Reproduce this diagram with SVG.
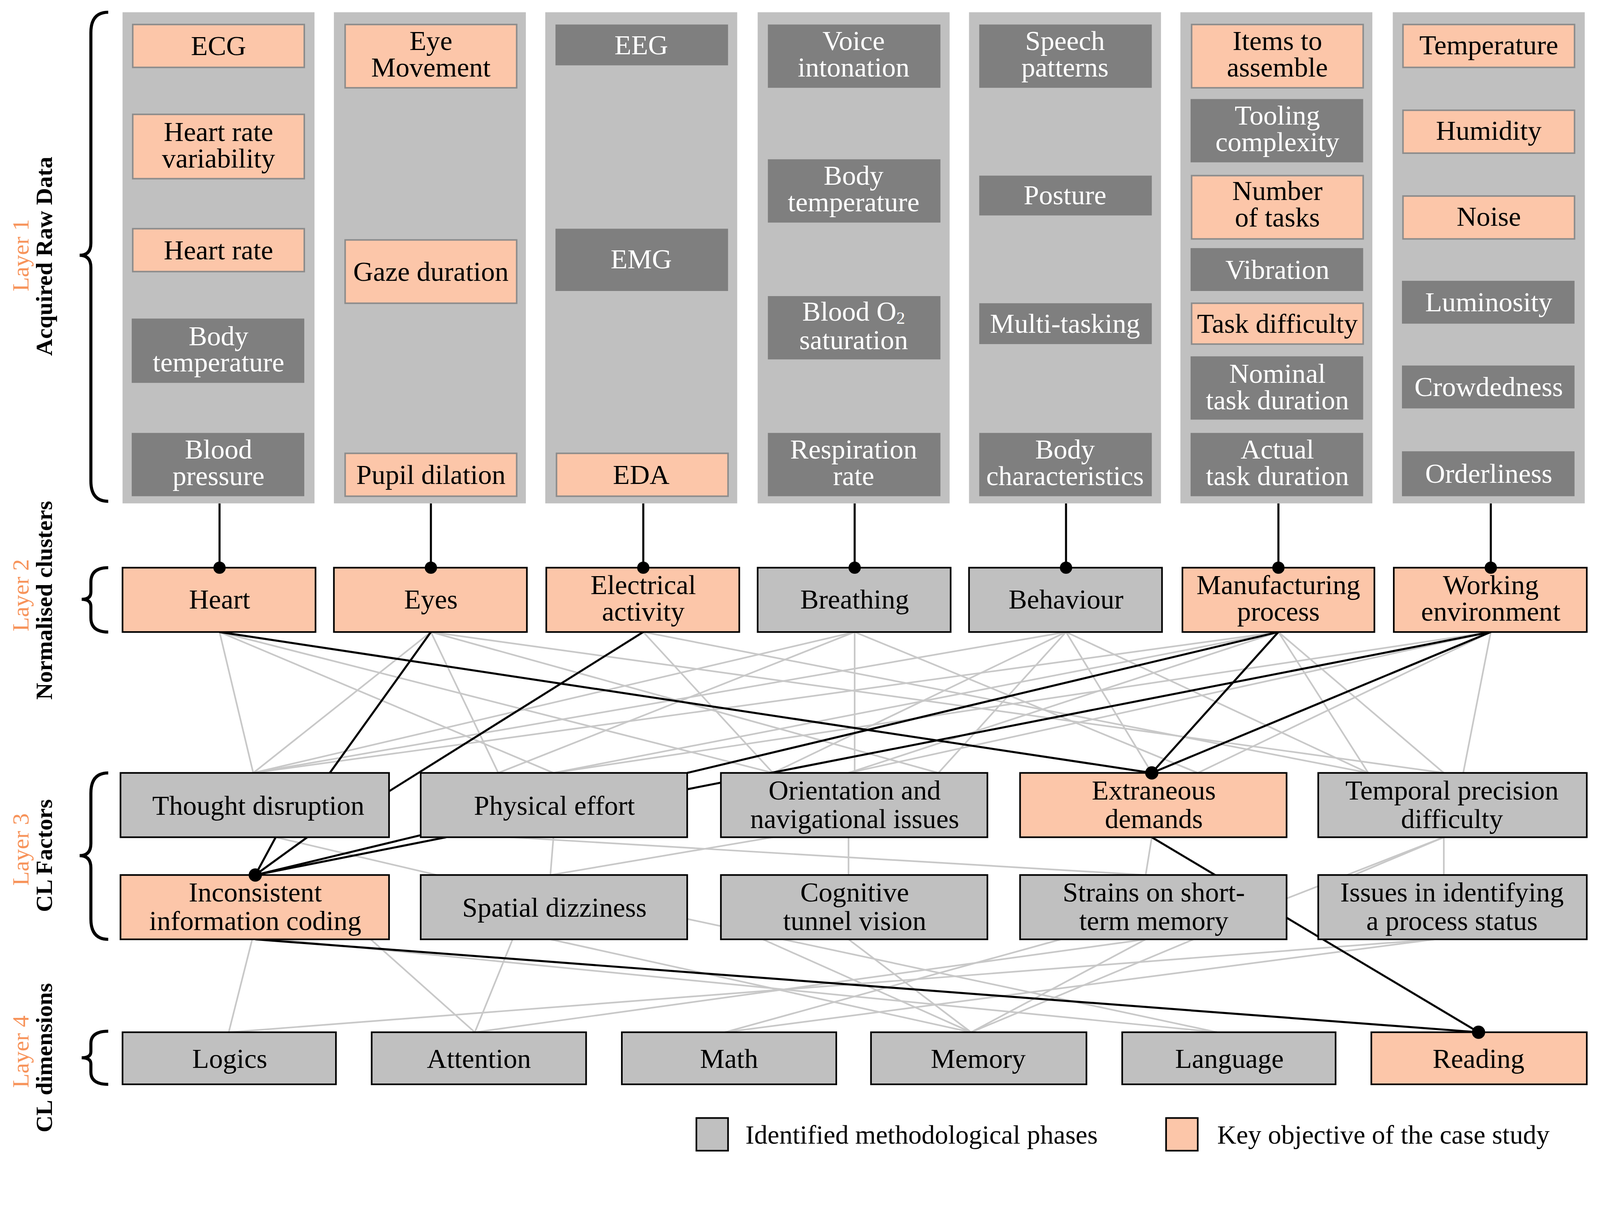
<svg xmlns="http://www.w3.org/2000/svg" width="4315" height="3126" viewBox="0 0 4315 3126">
<style>
text{font-family:"Liberation Serif",serif;font-size:27px;text-anchor:middle;fill:#000}
.w{fill:#fff}
.pan{fill:#c0c0c0}
.dk{fill:#7f7f7f}
.pk{fill:#fcc6a9;stroke:#8c8c8c;stroke-width:1.5}
.pb{fill:#fcc6a9;stroke:#000;stroke-width:1.6}
.gb{fill:#c0c0c0;stroke:#000;stroke-width:1.6}
.g line{stroke:#c8c8c8;stroke-width:1.6}
.b line{stroke:#000;stroke-width:2}
.v line{stroke:#000;stroke-width:2}
.br{fill:none;stroke:#000;stroke-width:3}
.lo{fill:#f7935a;font-size:23px}
.lb{font-weight:bold;font-size:23px}
.lg{font-size:26px;text-anchor:start}
</style>
<rect width="4315" height="3126" fill="#fff"/>
<g transform="scale(2.614)">
<g id="labels">
<path class="br" d="M106,12 Q89,12 89,32 L89,238 Q89,250 78,250 Q89,250 89,262 L89,471 Q89,491 106,491"/>
<path class="br" d="M106,556 Q89,556 89,570 L89,580 Q89,587 80,587 Q89,587 89,594 L89,605 Q89,619 106,619"/>
<path class="br" d="M106,757 Q89,757 89,777 L89,826 Q89,838 78,838 Q89,838 89,850 L89,900 Q89,920 106,920"/>
<path class="br" d="M106,1010 Q89,1010 89,1022 L89,1030 Q89,1036 80,1036 Q89,1036 89,1042 L89,1050 Q89,1062 106,1062"/>
<text class="lo" transform="translate(28,250) rotate(-90)">Layer 1</text>
<text class="lb" transform="translate(51,251) rotate(-90)">Acquired Raw Data</text>
<text class="lo" transform="translate(28,583) rotate(-90)">Layer 2</text>
<text class="lb" transform="translate(51,588) rotate(-90)">Normalised clusters</text>
<text class="lo" transform="translate(28,832) rotate(-90)">Layer 3</text>
<text class="lb" transform="translate(51,838) rotate(-90)">CL Factors</text>
<text class="lo" transform="translate(28,1030) rotate(-90)">Layer 4</text>
<text class="lb" transform="translate(51,1036) rotate(-90)">CL dimensions</text>
</g>
<g id="connectors">
<g class="v">
<line x1="215" y1="493" x2="215" y2="556"/><line x1="422" y1="493" x2="422" y2="556"/><line x1="630" y1="493" x2="630" y2="556"/><line x1="837" y1="493" x2="837" y2="556"/><line x1="1044" y1="493" x2="1044" y2="556"/><line x1="1252" y1="493" x2="1252" y2="556"/><line x1="1460" y1="493" x2="1460" y2="556"/>
</g>
<g class="g">
<line x1="215" y1="619" x2="248" y2="757"/><line x1="215" y1="619" x2="542" y2="757"/><line x1="215" y1="619" x2="757" y2="757"/>
<line x1="422" y1="619" x2="248" y2="757"/><line x1="422" y1="619" x2="488" y2="757"/><line x1="422" y1="619" x2="919" y2="757"/><line x1="422" y1="619" x2="1414" y2="757"/>
<line x1="630" y1="619" x2="757" y2="757"/><line x1="630" y1="619" x2="1340" y2="757"/>
<line x1="837" y1="619" x2="488" y2="757"/><line x1="837" y1="619" x2="837" y2="757"/><line x1="837" y1="619" x2="1173" y2="757"/><line x1="837" y1="619" x2="248" y2="757"/>
<line x1="1044" y1="619" x2="248" y2="757"/><line x1="1044" y1="619" x2="757" y2="757"/><line x1="1044" y1="619" x2="919" y2="757"/><line x1="1044" y1="619" x2="1128" y2="757"/><line x1="1044" y1="619" x2="1340" y2="757"/>
<line x1="1252" y1="619" x2="248" y2="757"/><line x1="1252" y1="619" x2="542" y2="757"/><line x1="1252" y1="619" x2="831" y2="757"/><line x1="1252" y1="619" x2="1414" y2="757"/><line x1="1252" y1="619" x2="1340" y2="757"/>
<line x1="1460" y1="619" x2="542" y2="757"/><line x1="1460" y1="619" x2="831" y2="757"/><line x1="1460" y1="619" x2="1173" y2="757"/><line x1="1460" y1="619" x2="1433" y2="757"/>
<line x1="270" y1="820" x2="428" y2="857"/><line x1="542" y1="820" x2="539" y2="857"/><line x1="757" y1="820" x2="539" y2="857"/><line x1="831" y1="820" x2="831" y2="857"/><line x1="1128" y1="820" x2="1122" y2="857"/><line x1="1414" y1="820" x2="1326" y2="857"/><line x1="1414" y1="820" x2="1414" y2="857"/><line x1="500" y1="820" x2="1122" y2="857"/><line x1="1414" y1="820" x2="1260" y2="880"/>
<line x1="247" y1="920" x2="224" y2="1011"/><line x1="270" y1="920" x2="1192" y2="1011"/><line x1="363" y1="920" x2="465" y2="1011"/>
<line x1="502" y1="920" x2="465" y2="1011"/><line x1="539" y1="920" x2="951" y2="1011"/><line x1="673" y1="900" x2="1192" y2="1011"/>
<line x1="747" y1="920" x2="951" y2="1011"/><line x1="831" y1="920" x2="951" y2="1011"/>
<line x1="1039" y1="920" x2="710" y2="1011"/><line x1="1122" y1="920" x2="951" y2="1011"/><line x1="1122" y1="920" x2="465" y2="1011"/><line x1="1169" y1="920" x2="951" y2="1011"/>
<line x1="1405" y1="920" x2="224" y2="1011"/><line x1="1405" y1="920" x2="710" y2="1011"/>
</g>
<g class="b">
<line x1="215" y1="619" x2="1128" y2="757"/><line x1="1252" y1="619" x2="1128" y2="757"/><line x1="1460" y1="619" x2="1128" y2="757"/>
<line x1="422" y1="619" x2="323" y2="757"/><line x1="270" y1="820" x2="250" y2="857"/>
<line x1="630" y1="619" x2="381" y2="775"/><line x1="301" y1="820" x2="250" y2="857"/>
<line x1="1252" y1="619" x2="673" y2="757"/><line x1="412" y1="818" x2="250" y2="857"/>
<line x1="1460" y1="619" x2="673" y2="773"/><line x1="437" y1="820" x2="250" y2="857"/>
<line x1="250" y1="920" x2="1448" y2="1011"/>
<line x1="1128" y1="820" x2="1448" y2="1011"/>
</g>
</g>
<g id="col1"><rect class="pan" x="120" y="12" width="188" height="481"/>
<rect class="pk" x="130" y="24" width="168" height="42"/><text x="214" y="54">ECG</text>
<rect class="pk" x="130" y="112" width="168" height="63"/><text x="214" y="138">Heart rate</text><text x="214" y="164">variability</text>
<rect class="pk" x="130" y="224" width="168" height="42"/><text x="214" y="254">Heart rate</text>
<rect class="dk" x="129" y="312" width="169" height="63"/><text class="w" x="214" y="338">Body</text><text class="w" x="214" y="364">temperature</text>
<rect class="dk" x="129" y="424" width="169" height="62"/><text class="w" x="214" y="449">Blood</text><text class="w" x="214" y="475">pressure</text></g>
<g id="col2"><rect class="pan" x="327" y="12" width="188" height="481"/>
<rect class="pk" x="338" y="24" width="168" height="62"/><text x="422" y="49">Eye</text><text x="422" y="75">Movement</text>
<rect class="pk" x="338" y="235" width="168" height="62"/><text x="422" y="275">Gaze duration</text>
<rect class="pk" x="338" y="444" width="168" height="42"/><text x="422" y="474">Pupil dilation</text></g>
<g id="col3"><rect class="pan" x="534" y="12" width="188" height="481"/>
<rect class="dk" x="544" y="24" width="169" height="40"/><text class="w" x="628" y="53">EEG</text>
<rect class="dk" x="544" y="224" width="169" height="61"/><text class="w" x="628" y="263">EMG</text>
<rect class="pk" x="545" y="444" width="168" height="42"/><text x="628" y="474">EDA</text></g>
<g id="col4"><rect class="pan" x="742" y="12" width="188" height="481"/>
<rect class="dk" x="752" y="24" width="169" height="62"/><text class="w" x="836" y="49">Voice</text><text class="w" x="836" y="75">intonation</text>
<rect class="dk" x="752" y="156" width="169" height="62"/><text class="w" x="836" y="181">Body</text><text class="w" x="836" y="207">temperature</text>
<rect class="dk" x="752" y="290" width="169" height="62"/><text class="w" x="836" y="314">Blood O<tspan font-size="17" dy="3">2</tspan></text><text class="w" x="836" y="342">saturation</text>
<rect class="dk" x="752" y="424" width="169" height="62"/><text class="w" x="836" y="449">Respiration</text><text class="w" x="836" y="475">rate</text></g>
<g id="col5"><rect class="pan" x="949" y="12" width="188" height="481"/>
<rect class="dk" x="959" y="24" width="169" height="62"/><text class="w" x="1043" y="49">Speech</text><text class="w" x="1043" y="75">patterns</text>
<rect class="dk" x="959" y="172" width="169" height="39"/><text class="w" x="1043" y="200">Posture</text>
<rect class="dk" x="959" y="297" width="169" height="40"/><text class="w" x="1043" y="326">Multi-tasking</text>
<rect class="dk" x="959" y="424" width="169" height="62"/><text class="w" x="1043" y="449">Body</text><text class="w" x="1043" y="475">characteristics</text></g>
<g id="col6"><rect class="pan" x="1156" y="12" width="188" height="481"/>
<rect class="pk" x="1167" y="24" width="168" height="62"/><text x="1251" y="49">Items to</text><text x="1251" y="75">assemble</text>
<rect class="dk" x="1166" y="97" width="169" height="62"/><text class="w" x="1251" y="122">Tooling</text><text class="w" x="1251" y="148">complexity</text>
<rect class="pk" x="1167" y="172" width="168" height="62"/><text x="1251" y="196">Number</text><text x="1251" y="222">of tasks</text>
<rect class="dk" x="1166" y="243" width="169" height="42"/><text class="w" x="1251" y="273">Vibration</text>
<rect class="pk" x="1167" y="297" width="168" height="40"/><text x="1251" y="326">Task difficulty</text>
<rect class="dk" x="1166" y="349" width="169" height="62"/><text class="w" x="1251" y="375">Nominal</text><text class="w" x="1251" y="401">task duration</text>
<rect class="dk" x="1166" y="424" width="169" height="62"/><text class="w" x="1251" y="449">Actual</text><text class="w" x="1251" y="475">task duration</text></g>
<g id="col7"><rect class="pan" x="1364" y="12" width="188" height="481"/>
<rect class="pk" x="1374" y="24" width="168" height="42"/><text x="1458" y="53">Temperature</text>
<rect class="pk" x="1374" y="108" width="168" height="42"/><text x="1458" y="137">Humidity</text>
<rect class="pk" x="1374" y="192" width="168" height="42"/><text x="1458" y="221">Noise</text>
<rect class="dk" x="1373" y="275" width="169" height="42"/><text class="w" x="1458" y="305">Luminosity</text>
<rect class="dk" x="1373" y="358" width="169" height="42"/><text class="w" x="1458" y="388">Crowdedness</text>
<rect class="dk" x="1373" y="442" width="169" height="44"/><text class="w" x="1458" y="473">Orderliness</text></g>
<g id="heart"><rect class="pb" x="120" y="556" width="189" height="63"/><text x="215" y="596">Heart</text></g>
<g id="eyes"><rect class="pb" x="327" y="556" width="189" height="63"/><text x="422" y="596">Eyes</text></g>
<g id="elec"><rect class="pb" x="535" y="556" width="189" height="63"/><text x="630" y="582">Electrical</text><text x="630" y="608">activity</text></g>
<g id="breath"><rect class="gb" x="742" y="556" width="189" height="63"/><text x="837" y="596">Breathing</text></g>
<g id="behav"><rect class="gb" x="949" y="556" width="189" height="63"/><text x="1044" y="596">Behaviour</text></g>
<g id="manuf"><rect class="pb" x="1158" y="556" width="188" height="63"/><text x="1252" y="582">Manufacturing</text><text x="1252" y="608">process</text></g>
<g id="workenv"><rect class="pb" x="1365" y="556" width="189" height="63"/><text x="1460" y="582">Working</text><text x="1460" y="608">environment</text></g>
<g id="td"><rect class="gb" x="118" y="757" width="263" height="63"/><text x="253" y="798">Thought disruption</text></g>
<g id="pe"><rect class="gb" x="412" y="757" width="261" height="63"/><text x="543" y="798">Physical effort</text></g>
<g id="on"><rect class="gb" x="706" y="757" width="261" height="63"/><text x="837" y="783">Orientation and</text><text x="837" y="811">navigational issues</text></g>
<g id="ed"><rect class="pb" x="999" y="757" width="261" height="63"/><text x="1130" y="783">Extraneous</text><text x="1130" y="811">demands</text></g>
<g id="tp"><rect class="gb" x="1291" y="757" width="263" height="63"/><text x="1422" y="783">Temporal precision</text><text x="1422" y="811">difficulty</text></g>
<g id="icc"><rect class="pb" x="118" y="857" width="263" height="63"/><text x="250" y="883">Inconsistent</text><text x="250" y="911">information coding</text></g>
<g id="sd"><rect class="gb" x="412" y="857" width="261" height="63"/><text x="543" y="898">Spatial dizziness</text></g>
<g id="ctv"><rect class="gb" x="706" y="857" width="261" height="63"/><text x="837" y="883">Cognitive</text><text x="837" y="911">tunnel vision</text></g>
<g id="stm"><rect class="gb" x="999" y="857" width="261" height="63"/><text x="1130" y="883">Strains on short-</text><text x="1130" y="911">term memory</text></g>
<g id="ips"><rect class="gb" x="1291" y="857" width="263" height="63"/><text x="1422" y="883">Issues in identifying</text><text x="1422" y="911">a process status</text></g>
<g id="logics"><rect class="gb" x="120" y="1011" width="209" height="51"/><text x="225" y="1046">Logics</text></g>
<g id="attention"><rect class="gb" x="364" y="1011" width="210" height="51"/><text x="469" y="1046">Attention</text></g>
<g id="math"><rect class="gb" x="609" y="1011" width="210" height="51"/><text x="714" y="1046">Math</text></g>
<g id="memory"><rect class="gb" x="853" y="1011" width="211" height="51"/><text x="958" y="1046">Memory</text></g>
<g id="language"><rect class="gb" x="1099" y="1011" width="209" height="51"/><text x="1204" y="1046">Language</text></g>
<g id="reading"><rect class="pb" x="1343" y="1011" width="211" height="51"/><text x="1448" y="1046">Reading</text></g>
<g id="dots" fill="#000">
<circle cx="215" cy="556" r="6"/><circle cx="422" cy="556" r="6"/><circle cx="630" cy="556" r="6"/><circle cx="837" cy="556" r="6"/><circle cx="1044" cy="556" r="6"/><circle cx="1252" cy="556" r="6"/><circle cx="1460" cy="556" r="6"/>
<circle cx="1128" cy="757" r="6.5"/><circle cx="250" cy="857" r="6.5"/><circle cx="1448" cy="1011" r="6.5"/>
</g>
<g id="legend">
<rect class="gb" x="682" y="1095" width="31" height="32"/><text class="lg" x="730" y="1120">Identified methodological phases</text>
<rect class="pb" x="1142" y="1095" width="31" height="32"/><text class="lg" x="1192" y="1120">Key objective of the case study</text>
</g>
</g>
</svg>
